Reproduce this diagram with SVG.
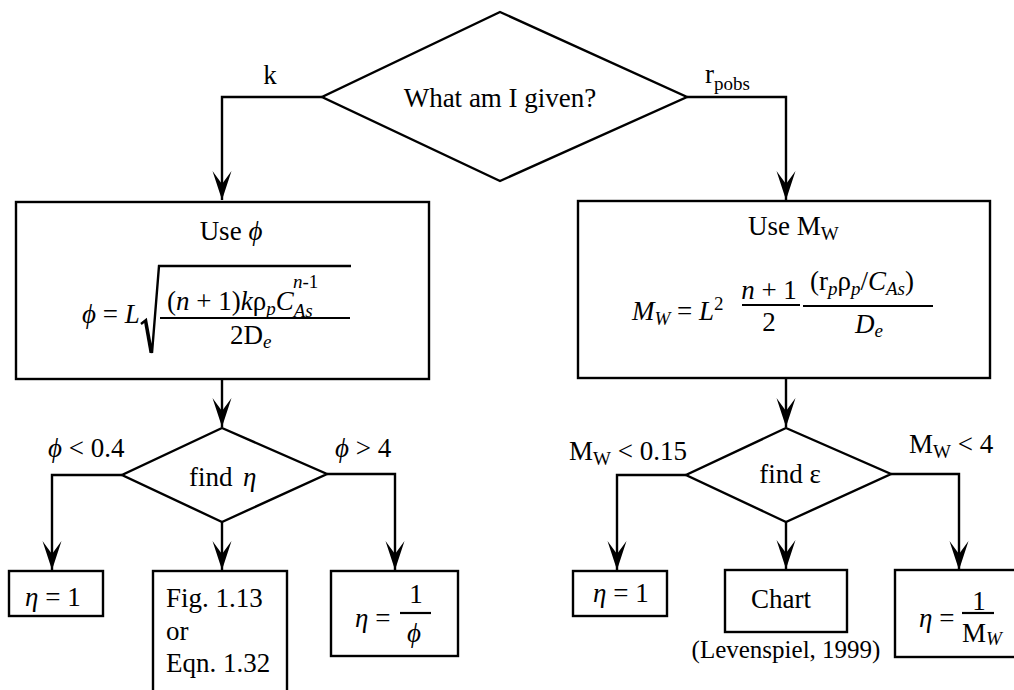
<svg xmlns="http://www.w3.org/2000/svg" width="1014" height="690" viewBox="0 0 1014 690">
<style>
text{font-family:"Liberation Serif",serif;font-size:27px;fill:#000}
.i{font-style:italic}
.s{font-size:19px}
.sm{font-size:25px}
.shape{fill:#fff;stroke:#000;stroke-width:2.4}
.ln{fill:none;stroke:#000;stroke-width:2.4}
.fr{stroke:#000;stroke-width:2.2}
</style>
<defs>
<marker id="ah" markerUnits="userSpaceOnUse" markerWidth="32" markerHeight="22" viewBox="-30 -11 32 22" refX="0" refY="0" orient="auto">
<path d="M0,0 L-29,-9.5 L-16,0 L-29,9.5 Z" fill="#000"/>
</marker>
</defs>
<rect width="1014" height="690" fill="#fff"/>

<g id="connectors">
<polyline class="ln" points="322,97 222,97 222,200" marker-end="url(#ah)"/>
<polyline class="ln" points="687,97 786,97 786,200" marker-end="url(#ah)"/>
<line class="ln" x1="222" y1="379" x2="222" y2="427" marker-end="url(#ah)"/>
<line class="ln" x1="786" y1="379" x2="786" y2="427" marker-end="url(#ah)"/>
<polyline class="ln" points="122,475 52,475 52,570" marker-end="url(#ah)"/>
<line class="ln" x1="222" y1="522" x2="222" y2="570" marker-end="url(#ah)"/>
<polyline class="ln" points="327,474 395,474 395,570" marker-end="url(#ah)"/>
<polyline class="ln" points="686,475 617,475 617,570" marker-end="url(#ah)"/>
<line class="ln" x1="786" y1="522" x2="786" y2="569" marker-end="url(#ah)"/>
<polyline class="ln" points="891,474 959,474 959,570" marker-end="url(#ah)"/>
<text x="270" y="84" text-anchor="middle">k</text>
<text x="705" y="83">r<tspan class="s" dy="7">pobs</tspan></text>
<text x="48" y="457"><tspan class="i">ϕ</tspan> &lt; 0.4</text>
<text x="335" y="457"><tspan class="i">ϕ</tspan> &gt; 4</text>
<text x="569" y="460">M<tspan class="s" dy="5">W</tspan><tspan dy="-5"> &lt; 0.15</tspan></text>
<text x="909" y="453">M<tspan class="s" dy="5">W</tspan><tspan dy="-5"> &lt; 4</tspan></text>
</g>

<g id="given">
<polygon class="shape" points="500,12 687,97 500,181 322,97"/>
<text x="500" y="107" text-anchor="middle">What am I given?</text>
</g>

<g id="use-phi">
<rect class="shape" x="16" y="202" width="413" height="177"/>
<text x="231" y="240" text-anchor="middle">Use <tspan class="i">ϕ</tspan></text>
<text x="82" y="323"><tspan class="i">ϕ</tspan> = <tspan class="i">L</tspan></text>
<path class="ln" d="M141,324 L146,320 L152,353 L159,266 L351,266" stroke-width="2"/>
<path d="M146,320 L152,353 L149.5,353 L144,322 Z" fill="#000"/>
<line class="fr" x1="160" y1="318" x2="350" y2="318"/>
<text x="167" y="310">(<tspan class="i">n</tspan> + 1)<tspan class="i">k</tspan>ρ<tspan class="s i" dy="5">p</tspan><tspan class="i" dy="-5">C</tspan><tspan class="s i" dy="7">As</tspan></text>
<text x="293" y="288" class="s"><tspan class="i">n</tspan>-1</text>
<text x="230" y="344">2D<tspan class="s i" dy="4">e</tspan></text>
</g>

<g id="use-mw">
<rect class="shape" x="578" y="201" width="412" height="177"/>
<text x="748" y="235">Use M<tspan class="s" dy="5">W</tspan></text>
<text x="632" y="320"><tspan class="i">M</tspan><tspan class="s i" dy="5">W</tspan><tspan dy="-5"> = </tspan><tspan class="i">L</tspan><tspan class="s" dy="-10">2</tspan></text>
<text x="769" y="299" text-anchor="middle"><tspan class="i">n</tspan> + 1</text>
<line class="fr" x1="742" y1="305" x2="800" y2="305"/>
<text x="769" y="331" text-anchor="middle">2</text>
<text x="810" y="290">(r<tspan class="s i" dy="5">p</tspan><tspan dy="-5">ρ</tspan><tspan class="s i" dy="5">p</tspan><tspan dy="-5">/</tspan><tspan class="i">C</tspan><tspan class="s i" dy="5">As</tspan><tspan dy="-5">)</tspan></text>
<line class="fr" x1="803" y1="306" x2="933" y2="306"/>
<text x="855" y="333"><tspan class="i">D</tspan><tspan class="s i" dy="4">e</tspan></text>
</g>

<g id="find-eta">
<polygon class="shape" points="222,428 327,474 222,522 122,475"/>
<text x="189" y="486">find</text>
<text x="243" y="486" class="i">η</text>
</g>

<g id="find-eps">
<polygon class="shape" points="786,428 891,474 786,522 686,475"/>
<text x="790" y="483" text-anchor="middle">find ε</text>
</g>

<g id="eta1-left">
<rect class="shape" x="9" y="571" width="94" height="45"/>
<text x="25" y="606"><tspan class="i">η</tspan> = 1</text>
</g>

<g id="fig-eqn">
<rect class="shape" x="153" y="571" width="134" height="130"/>
<text x="166" y="607">Fig. 1.13</text>
<text x="166" y="640">or</text>
<text x="166" y="672">Eqn. 1.32</text>
</g>

<g id="eta-inv-phi">
<rect class="shape" x="331" y="571" width="127" height="85"/>
<text x="355" y="627"><tspan class="i">η</tspan> =</text>
<text x="416" y="603" text-anchor="middle">1</text>
<line class="fr" x1="400" y1="613" x2="431" y2="613"/>
<text x="414" y="642" text-anchor="middle" class="i">ϕ</text>
</g>

<g id="eta1-right">
<rect class="shape" x="573" y="571" width="94" height="45"/>
<text x="593" y="602"><tspan class="i">η</tspan> = 1</text>
</g>

<g id="chart">
<rect class="shape" x="725" y="570" width="122" height="62"/>
<text x="781" y="608" text-anchor="middle">Chart</text>
<text x="786" y="658" text-anchor="middle" class="sm">(Levenspiel, 1999)</text>
</g>

<g id="eta-inv-mw">
<rect class="shape" x="895" y="570" width="130" height="87"/>
<text x="919" y="627"><tspan class="i">η</tspan> =</text>
<text x="979" y="610" text-anchor="middle">1</text>
<line class="fr" x1="962" y1="613" x2="994" y2="613"/>
<text x="962" y="642">M<tspan class="s i" dy="3">W</tspan></text>
</g>
</svg>
